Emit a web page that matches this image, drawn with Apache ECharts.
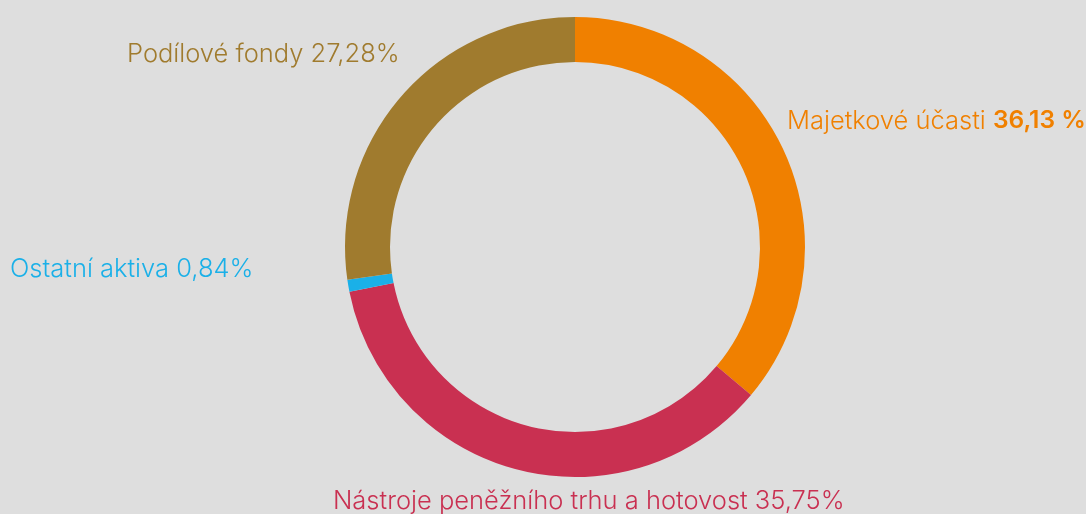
<!DOCTYPE html>
<html>
<head>
<meta charset="utf-8">
<style>
  html, body { margin: 0; padding: 0; background: #dedede; }
  #chart { width: 1086px; height: 514px; }
</style>
<script src="https://cdn.jsdelivr.net/npm/echarts@6/dist/echarts.min.js"></script>
</head>
<body>
<div id="chart"></div>
<script>
// asset allocation, clockwise from 12 o'clock
const names = ['Majetkové účasti', 'Nástroje peněžního trhu a hotovost', 'Ostatní aktiva', 'Podílové fondy'];
const values = [36.13, 35.75, 0.84, 27.28];
const pctSuffix = [' %', '%', '%', '%'];
const colors = ['#f08000', '#c93051', '#1ab0e8', '#a07b2e'];

// where each label sits (left edge, vertical middle)
const labelPos = [[787, 121], [333, 501], [10, 269], [127, 54]];

const FONT = "Inter, 'Open Sans', sans-serif";
const SIZE = 25.5;
const fmt = v => v.toFixed(2).replace('.', ',');

const chart = echarts.init(document.getElementById('chart'));

chart.setOption({
  backgroundColor: '#dedede',
  animation: false,
  series: [{
    type: 'pie',
    center: [575, 247],
    radius: [185, 230],
    startAngle: 90,
    clockwise: true,
    avoidLabelOverlap: false,
    itemStyle: { borderWidth: 0 },
    labelLine: { show: false },
    label: {
      show: true,
      position: 'outside',
      fontFamily: FONT,
      fontSize: SIZE,
      fontWeight: 300,
      formatter: p => {
        const pct = fmt(p.value) + pctSuffix[p.dataIndex];
        return p.dataIndex === 0 ? '{n|' + p.name + '} {b|' + pct + '}' : p.name + ' ' + pct;
      },
      rich: {
        n: { fontFamily: FONT, fontSize: SIZE, fontWeight: 300, color: colors[0] },
        b: { fontFamily: FONT, fontSize: 24.5, fontWeight: 600, color: colors[0] }
      }
    },
    labelLayout: params => {
      const pos = labelPos[params.dataIndex];
      return { x: pos[0], y: pos[1], align: 'left', verticalAlign: 'middle' };
    },
    emphasis: { disabled: true },
    data: names.map((n, i) => ({
      name: n,
      value: values[i],
      itemStyle: { color: colors[i] },
      label: { color: colors[i] }
    }))
  }]
});
</script>
</body>
</html>
